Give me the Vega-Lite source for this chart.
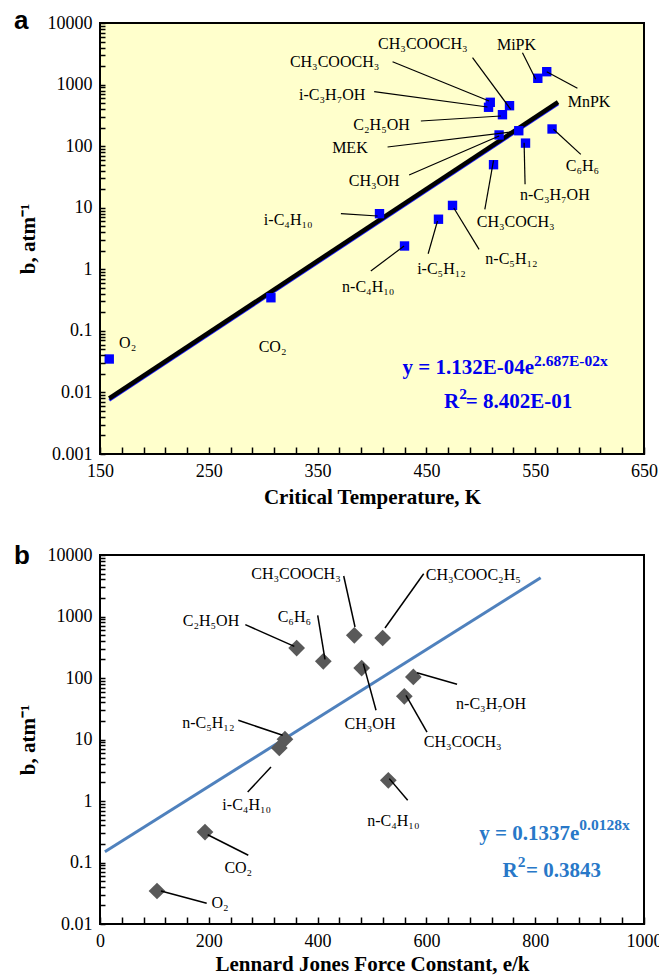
{
  "$schema": "https://vega.github.io/schema/vega-lite/v6.json",
  "background": "white",
  "padding": {"left": 13, "top": 7, "right": 0, "bottom": 0},
  "spacing": 33,
  "config": {
    "axis": {
      "labelFont": "Liberation Serif",
      "labelFontSize": 18,
      "labelColor": "black",
      "titleFont": "Liberation Serif",
      "titleFontSize": 21,
      "titleFontWeight": "bold",
      "titleColor": "black",
      "ticks": true,
      "tickColor": "black",
      "tickWidth": 1.5,
      "grid": false,
      "labelFlush": false,
      "labelOverlap": false
    },
    "text": {"font": "Liberation Serif", "fontSize": 16, "color": "black"}
  },
  "datasets": {
    "critical": [
      {"compound": "MiPK", "tc": 552.4, "b": 1265, "label": "MiPK", "lx": 532.8, "ly": 4395, "x1": 538.3, "y1": 3296, "x2": 550.5, "y2": 1219},
      {"compound": "MnPK", "tc": 560.6, "b": 1618, "label": "MnPK", "lx": 599.5, "ly": 527, "x1": 588.8, "y1": 869, "x2": 560.6, "y2": 1618},
      {"compound": "CH3COOCH3", "tc": 508.7, "b": 515, "label": "CH₃COOCH₃", "lx": 365.6, "ly": 2328, "x1": 418.9, "y1": 2350, "x2": 507.6, "y2": 541},
      {"compound": "i-C3H7OH", "tc": 507.1, "b": 428, "label": "i-C₃H₇OH", "lx": 363.4, "ly": 677, "x1": 402, "y1": 766, "x2": 506.1, "y2": 432},
      {"compound": "CH3COOCH3", "tc": 526.4, "b": 454, "label": "CH₃COOCH₃", "lx": 446.7, "ly": 4508, "x1": 492.4, "y1": 2731, "x2": 527.5, "y2": 396},
      {"compound": "C2H5OH", "tc": 519.9, "b": 324, "label": "C₂H₅OH", "lx": 408.8, "ly": 220, "x1": 444.9, "y1": 256, "x2": 518.4, "y2": 309},
      {"compound": "CH3OH", "tc": 516.8, "b": 152, "label": "CH₃OH", "lx": 402, "ly": 27.2, "x1": 434.1, "y1": 34, "x2": 516.8, "y2": 146},
      {"compound": "MEK", "tc": 534.9, "b": 178, "label": "MEK", "lx": 379.7, "ly": 92.3, "x1": 414.3, "y1": 96.8, "x2": 527.5, "y2": 170},
      {"compound": "n-C3H7OH", "tc": 541.1, "b": 112, "label": "n-C₃H₇OH", "lx": 568, "ly": 16.1, "x1": 540.7, "y1": 24, "x2": 539.8, "y2": 114},
      {"compound": "C6H6", "tc": 565.5, "b": 190, "label": "C₆H₆", "lx": 593.4, "ly": 47.5, "x1": 591.9, "y1": 73.6, "x2": 566.8, "y2": 188},
      {"compound": "CH3COCH3", "tc": 511.7, "b": 50, "label": "CH₃COCH₃", "lx": 532.1, "ly": 5.93, "x1": 503.7, "y1": 9.42, "x2": 511.7, "y2": 58.9},
      {"compound": "i-C4H10", "tc": 406.9, "b": 8.0, "label": "i-C₄H₁₀", "lx": 323, "ly": 6.31, "x1": 371.4, "y1": 8.0, "x2": 405.1, "y2": 7.33},
      {"compound": "n-C4H10", "tc": 429.9, "b": 2.39, "label": "n-C₄H₁₀", "lx": 396.5, "ly": 0.521, "x1": 398.9, "y1": 0.938, "x2": 429.5, "y2": 2.39},
      {"compound": "n-C5H12", "tc": 474, "b": 10.9, "label": "n-C₅H₁₂", "lx": 528.2, "ly": 1.45, "x1": 498.4, "y1": 2.11, "x2": 475.2, "y2": 9.89},
      {"compound": "i-C5H12", "tc": 461.1, "b": 6.5, "label": "i-C₅H₁₂", "lx": 463.9, "ly": 1.0, "x1": 451.6, "y1": 1.79, "x2": 460.2, "y2": 6.08},
      {"compound": "CO2", "tc": 307.1, "b": 0.345, "label": "CO₂", "lx": 308.6, "ly": 0.0547},
      {"compound": "O2", "tc": 158.5, "b": 0.0349, "label": "O₂", "lx": 175.4, "ly": 0.0641}
    ],
    "criticalFit": [
      {"tc": 158.5, "b": 0.0080},
      {"tc": 571, "b": 519}
    ],
    "criticalFitShadow": [
      {"tc": 158.5, "b": 0.00744},
      {"tc": 571, "b": 483}
    ],
    "criticalNote": [
      {"part": "lead", "text": "y = 1.132E-04e", "x": 549, "y": 0.0197},
      {"part": "exp", "text": "2.687E-02x", "x": 549, "y": 0.0269},
      {"part": "lead", "text": "R", "x": 480.1, "y": 0.00565},
      {"part": "exp", "text": "2", "x": 480.1, "y": 0.00773},
      {"part": "tail", "text": "= 8.402E-01", "x": 486.2, "y": 0.00565}
    ],
    "lennard": [
      {"compound": "CH3COOCH3", "lj": 467.5, "b": 494, "label": "CH₃COOCH₃", "lx": 360.3, "ly": 4966, "x1": 448, "y1": 4560, "x2": 468.8, "y2": 675},
      {"compound": "CH3COOC2H5", "lj": 519.6, "b": 447, "label": "CH₃COOC₂H₅", "lx": 686.2, "ly": 4786, "x1": 595, "y1": 4966, "x2": 523.9, "y2": 650},
      {"compound": "C2H5OH", "lj": 361.5, "b": 307, "label": "C₂H₅OH", "lx": 204, "ly": 845, "x1": 267.1, "y1": 736, "x2": 357.2, "y2": 327},
      {"compound": "C6H6", "lj": 410.5, "b": 187, "label": "C₆H₆", "lx": 357.2, "ly": 982, "x1": 400.2, "y1": 1047, "x2": 413.6, "y2": 201},
      {"compound": "CH3OH", "lj": 481, "b": 145, "label": "CH₃OH", "lx": 496.3, "ly": 17.7, "x1": 507.4, "y1": 29.9, "x2": 484, "y2": 171},
      {"compound": "n-C3H7OH", "lj": 576, "b": 104, "label": "n-C₃H₇OH", "lx": 718.8, "ly": 38.2, "x1": 656.3, "y1": 79.1, "x2": 582.7, "y2": 122},
      {"compound": "CH3COCH3", "lj": 559.4, "b": 50.4, "label": "CH₃COCH₃", "lx": 666.7, "ly": 9.1, "x1": 601.1, "y1": 13.2, "x2": 562.5, "y2": 52.4},
      {"compound": "n-C5H12", "lj": 340, "b": 10.1, "label": "n-C₅H₁₂", "lx": 199.1, "ly": 18.7, "x1": 254.2, "y1": 20.5, "x2": 335.8, "y2": 11.7},
      {"compound": "i-C4H10", "lj": 329.6, "b": 7.3, "label": "i-C₄H₁₀", "lx": 269.7, "ly": 0.851, "x1": 271.5, "y1": 1.40, "x2": 314.3, "y2": 3.57},
      {"compound": "n-C4H10", "lj": 530, "b": 2.17, "label": "n-C₄H₁₀", "lx": 539.2, "ly": 0.473, "x1": 565.6, "y1": 1.03, "x2": 531.8, "y2": 2.31},
      {"compound": "CO2", "lj": 193, "b": 0.313, "label": "CO₂", "lx": 254.2, "ly": 0.0822, "x1": 272.6, "y1": 0.131, "x2": 198, "y2": 0.283},
      {"compound": "O2", "lj": 104.8, "b": 0.0344, "label": "O₂", "lx": 220.6, "ly": 0.0222, "x1": 196.1, "y1": 0.0217, "x2": 112.1, "y2": 0.0344}
    ],
    "lennardFit": [
      {"lj": 9, "b": 0.150},
      {"lj": 810, "b": 4256}
    ],
    "lennardNote": [
      {"part": "lead", "text": "y = 0.1337e", "x": 881, "y": 0.2296},
      {"part": "exp", "text": "0.0128x", "x": 881, "y": 0.334},
      {"part": "lead", "text": "R", "x": 767.8, "y": 0.0581},
      {"part": "exp", "text": "2", "x": 767.8, "y": 0.0845},
      {"part": "tail", "text": "= 0.3843", "x": 783.1, "y": 0.0581}
    ]
  },
  "vconcat": [
    {
      "width": 544,
      "height": 431,
      "view": {"fill": "#FFFFCC", "stroke": "black", "strokeWidth": 2},
      "layer": [
        {
          "data": {"name": "criticalFitShadow"},
          "mark": {"type": "line", "color": "#1a1aff", "strokeWidth": 3},
          "encoding": {
            "x": {"field": "tc", "type": "quantitative", "title": "Critical Temperature, K",
              "scale": {"domain": [150, 650], "nice": false, "zero": false},
              "axis": {
                "zindex": 1,
                "domain": false,
                "values": [150,170,190,210,230,250,270,290,310,330,350,370,390,410,430,450,470,490,510,530,550,570,590,610,630,650],
                "tickCount": 200,
                "labelExpr": "(datum.value - 150) % 100 == 0 ? datum.label : ''",
                "labelOverlap": false,
                "offset": -7,
                "tickSize": 7,
                "labelPadding": 8,
                "titlePadding": 6
              }},
            "y": {"field": "b", "type": "quantitative", "title": "b, atm⁻¹",
              "scale": {"type": "log", "domain": [0.001, 10000], "nice": false, "zero": false},
              "axis": {
                "zindex": 1,
                "domain": false,
                "values": [0.001,0.002,0.003,0.004,0.005,0.006,0.007,0.008,0.009,0.01,0.02,0.03,0.04,0.05,0.06,0.07,0.08,0.09,0.1,0.2,0.3,0.4,0.5,0.6,0.7,0.8,0.9,1,2,3,4,5,6,7,8,9,10,20,30,40,50,60,70,80,90,100,200,300,400,500,600,700,800,900,1000,2000,3000,4000,5000,6000,7000,8000,9000,10000],
                "tickCount": 200,
                "format": "~r",
                "labelExpr": "abs(log(datum.value) / LN10 - round(log(datum.value) / LN10)) < 1e-6 ? datum.label : ''",
                "labelOverlap": false,
                "offset": -5,
                "tickSize": 5,
                "labelPadding": 8,
                "minExtent": 58,
                "maxExtent": 58,
                "titlePadding": 9
              }}
          }
        },
        {
          "data": {"name": "criticalFit"},
          "mark": {"type": "line", "color": "black", "strokeWidth": 4.5},
          "encoding": {
            "x": {"field": "tc", "type": "quantitative", "title": "Critical Temperature, K", "scale": {"domain": [150, 650], "nice": false, "zero": false}},
            "y": {"field": "b", "type": "quantitative", "title": "b, atm⁻¹", "scale": {"type": "log", "domain": [0.001, 10000], "nice": false, "zero": false}}
          }
        },
        {
          "data": {"name": "critical"},
          "mark": {"type": "square", "color": "#0000FF", "opacity": 1, "size": 88},
          "encoding": {
            "x": {"field": "tc", "type": "quantitative", "title": "Critical Temperature, K", "scale": {"domain": [150, 650], "nice": false, "zero": false}},
            "y": {"field": "b", "type": "quantitative", "title": "b, atm⁻¹", "scale": {"type": "log", "domain": [0.001, 10000], "nice": false, "zero": false}}
          }
        },
        {
          "data": {"name": "critical"},
          "transform": [{"filter": "isValid(datum.x1)"}],
          "mark": {"type": "rule", "color": "black", "strokeWidth": 1.2},
          "encoding": {
            "x": {"field": "x1", "type": "quantitative", "title": "Critical Temperature, K", "scale": {"domain": [150, 650], "nice": false, "zero": false}},
            "y": {"field": "y1", "type": "quantitative", "title": "b, atm⁻¹", "scale": {"type": "log", "domain": [0.001, 10000], "nice": false, "zero": false}},
            "x2": {"field": "x2"},
            "y2": {"field": "y2"}
          }
        },
        {
          "data": {"name": "critical"},
          "mark": {"type": "text", "align": "center", "baseline": "middle"},
          "encoding": {
            "x": {"field": "lx", "type": "quantitative", "title": "Critical Temperature, K", "scale": {"domain": [150, 650], "nice": false, "zero": false}},
            "y": {"field": "ly", "type": "quantitative", "title": "b, atm⁻¹", "scale": {"type": "log", "domain": [0.001, 10000], "nice": false, "zero": false}},
            "text": {"field": "label"}
          }
        },
        {
          "data": {"name": "criticalNote"},
          "transform": [{"filter": "datum.part == 'lead'"}],
          "mark": {"type": "text", "align": "right", "baseline": "alphabetic", "fontSize": 21, "fontWeight": "bold", "color": "#0000EE"},
          "encoding": {
            "x": {"field": "x", "type": "quantitative", "title": "Critical Temperature, K", "scale": {"domain": [150, 650], "nice": false, "zero": false}},
            "y": {"field": "y", "type": "quantitative", "title": "b, atm⁻¹", "scale": {"type": "log", "domain": [0.001, 10000], "nice": false, "zero": false}},
            "text": {"field": "text"}
          }
        },
        {
          "data": {"name": "criticalNote"},
          "transform": [{"filter": "datum.part == 'exp'"}],
          "mark": {"type": "text", "align": "left", "baseline": "alphabetic", "fontSize": 15.5, "fontWeight": "bold", "color": "#0000EE"},
          "encoding": {
            "x": {"field": "x", "type": "quantitative", "title": "Critical Temperature, K", "scale": {"domain": [150, 650], "nice": false, "zero": false}},
            "y": {"field": "y", "type": "quantitative", "title": "b, atm⁻¹", "scale": {"type": "log", "domain": [0.001, 10000], "nice": false, "zero": false}},
            "text": {"field": "text"}
          }
        },
        {
          "data": {"name": "criticalNote"},
          "transform": [{"filter": "datum.part == 'tail'"}],
          "mark": {"type": "text", "align": "left", "baseline": "alphabetic", "fontSize": 21, "fontWeight": "bold", "color": "#0000EE"},
          "encoding": {
            "x": {"field": "x", "type": "quantitative", "title": "Critical Temperature, K", "scale": {"domain": [150, 650], "nice": false, "zero": false}},
            "y": {"field": "y", "type": "quantitative", "title": "b, atm⁻¹", "scale": {"type": "log", "domain": [0.001, 10000], "nice": false, "zero": false}},
            "text": {"field": "text"}
          }
        },
        {
          "data": {"values": [{"panel": "a"}]},
          "mark": {"type": "text", "align": "left", "baseline": "alphabetic", "font": "Liberation Sans", "fontSize": 26, "fontWeight": "bold"},
          "encoding": {
            "x": {"datum": 71, "type": "quantitative", "title": "Critical Temperature, K", "scale": {"domain": [150, 650], "nice": false, "zero": false}},
            "y": {"datum": 7990, "type": "quantitative", "title": "b, atm⁻¹", "scale": {"type": "log", "domain": [0.001, 10000], "nice": false, "zero": false}},
            "text": {"field": "panel"}
          }
        }
      ]
    },
    {
      "width": 544,
      "height": 369,
      "view": {"fill": "white", "stroke": "black", "strokeWidth": 2},
      "layer": [
        {
          "data": {"name": "lennardFit"},
          "mark": {"type": "line", "color": "#4F81BD", "strokeWidth": 3},
          "encoding": {
            "x": {"field": "lj", "type": "quantitative", "title": "Lennard Jones Force Constant, e/k",
              "scale": {"domain": [0, 1000], "nice": false, "zero": false},
              "axis": {
                "zindex": 1,
                "domain": false,
                "values": [0,40,80,120,160,200,240,280,320,360,400,440,480,520,560,600,640,680,720,760,800,840,880,920,960,1000],
                "tickCount": 200,
                "format": "d",
                "labelExpr": "datum.value % 200 == 0 ? datum.label : ''",
                "labelOverlap": false,
                "offset": -7,
                "tickSize": 7,
                "labelPadding": 8,
                "titlePadding": 3
              }},
            "y": {"field": "b", "type": "quantitative", "title": "b, atm⁻¹",
              "scale": {"type": "log", "domain": [0.01, 10000], "nice": false, "zero": false},
              "axis": {
                "zindex": 1,
                "domain": false,
                "values": [0.01,0.02,0.03,0.04,0.05,0.06,0.07,0.08,0.09,0.1,0.2,0.3,0.4,0.5,0.6,0.7,0.8,0.9,1,2,3,4,5,6,7,8,9,10,20,30,40,50,60,70,80,90,100,200,300,400,500,600,700,800,900,1000,2000,3000,4000,5000,6000,7000,8000,9000,10000],
                "tickCount": 200,
                "format": "~r",
                "labelExpr": "abs(log(datum.value) / LN10 - round(log(datum.value) / LN10)) < 1e-6 ? datum.label : ''",
                "labelOverlap": false,
                "offset": -5,
                "tickSize": 5,
                "labelPadding": 8,
                "minExtent": 58,
                "maxExtent": 58,
                "titlePadding": 9
              }}
          }
        },
        {
          "data": {"name": "lennard"},
          "mark": {"type": "point", "shape": "diamond", "filled": true, "color": "#595959", "opacity": 1, "size": 280},
          "encoding": {
            "x": {"field": "lj", "type": "quantitative", "title": "Lennard Jones Force Constant, e/k", "scale": {"domain": [0, 1000], "nice": false, "zero": false}},
            "y": {"field": "b", "type": "quantitative", "title": "b, atm⁻¹", "scale": {"type": "log", "domain": [0.01, 10000], "nice": false, "zero": false}}
          }
        },
        {
          "data": {"name": "lennard"},
          "mark": {"type": "rule", "color": "black", "strokeWidth": 1.5},
          "encoding": {
            "x": {"field": "x1", "type": "quantitative", "title": "Lennard Jones Force Constant, e/k", "scale": {"domain": [0, 1000], "nice": false, "zero": false}},
            "y": {"field": "y1", "type": "quantitative", "title": "b, atm⁻¹", "scale": {"type": "log", "domain": [0.01, 10000], "nice": false, "zero": false}},
            "x2": {"field": "x2"},
            "y2": {"field": "y2"}
          }
        },
        {
          "data": {"name": "lennard"},
          "mark": {"type": "text", "align": "center", "baseline": "middle"},
          "encoding": {
            "x": {"field": "lx", "type": "quantitative", "title": "Lennard Jones Force Constant, e/k", "scale": {"domain": [0, 1000], "nice": false, "zero": false}},
            "y": {"field": "ly", "type": "quantitative", "title": "b, atm⁻¹", "scale": {"type": "log", "domain": [0.01, 10000], "nice": false, "zero": false}},
            "text": {"field": "label"}
          }
        },
        {
          "data": {"name": "lennardNote"},
          "transform": [{"filter": "datum.part == 'lead'"}],
          "mark": {"type": "text", "align": "right", "baseline": "alphabetic", "fontSize": 21, "fontWeight": "bold", "color": "#2878C8"},
          "encoding": {
            "x": {"field": "x", "type": "quantitative", "title": "Lennard Jones Force Constant, e/k", "scale": {"domain": [0, 1000], "nice": false, "zero": false}},
            "y": {"field": "y", "type": "quantitative", "title": "b, atm⁻¹", "scale": {"type": "log", "domain": [0.01, 10000], "nice": false, "zero": false}},
            "text": {"field": "text"}
          }
        },
        {
          "data": {"name": "lennardNote"},
          "transform": [{"filter": "datum.part == 'exp'"}],
          "mark": {"type": "text", "align": "left", "baseline": "alphabetic", "fontSize": 15.5, "fontWeight": "bold", "color": "#2878C8"},
          "encoding": {
            "x": {"field": "x", "type": "quantitative", "title": "Lennard Jones Force Constant, e/k", "scale": {"domain": [0, 1000], "nice": false, "zero": false}},
            "y": {"field": "y", "type": "quantitative", "title": "b, atm⁻¹", "scale": {"type": "log", "domain": [0.01, 10000], "nice": false, "zero": false}},
            "text": {"field": "text"}
          }
        },
        {
          "data": {"name": "lennardNote"},
          "transform": [{"filter": "datum.part == 'tail'"}],
          "mark": {"type": "text", "align": "left", "baseline": "alphabetic", "fontSize": 21, "fontWeight": "bold", "color": "#2878C8"},
          "encoding": {
            "x": {"field": "x", "type": "quantitative", "title": "Lennard Jones Force Constant, e/k", "scale": {"domain": [0, 1000], "nice": false, "zero": false}},
            "y": {"field": "y", "type": "quantitative", "title": "b, atm⁻¹", "scale": {"type": "log", "domain": [0.01, 10000], "nice": false, "zero": false}},
            "text": {"field": "text"}
          }
        },
        {
          "data": {"values": [{"panel": "b"}]},
          "mark": {"type": "text", "align": "left", "baseline": "alphabetic", "font": "Liberation Sans", "fontSize": 26, "fontWeight": "bold"},
          "encoding": {
            "x": {"datum": -158, "type": "quantitative", "title": "Lennard Jones Force Constant, e/k", "scale": {"domain": [0, 1000], "nice": false, "zero": false}},
            "y": {"datum": 7225, "type": "quantitative", "title": "b, atm⁻¹", "scale": {"type": "log", "domain": [0.01, 10000], "nice": false, "zero": false}},
            "text": {"field": "panel"}
          }
        }
      ]
    }
  ]
}
